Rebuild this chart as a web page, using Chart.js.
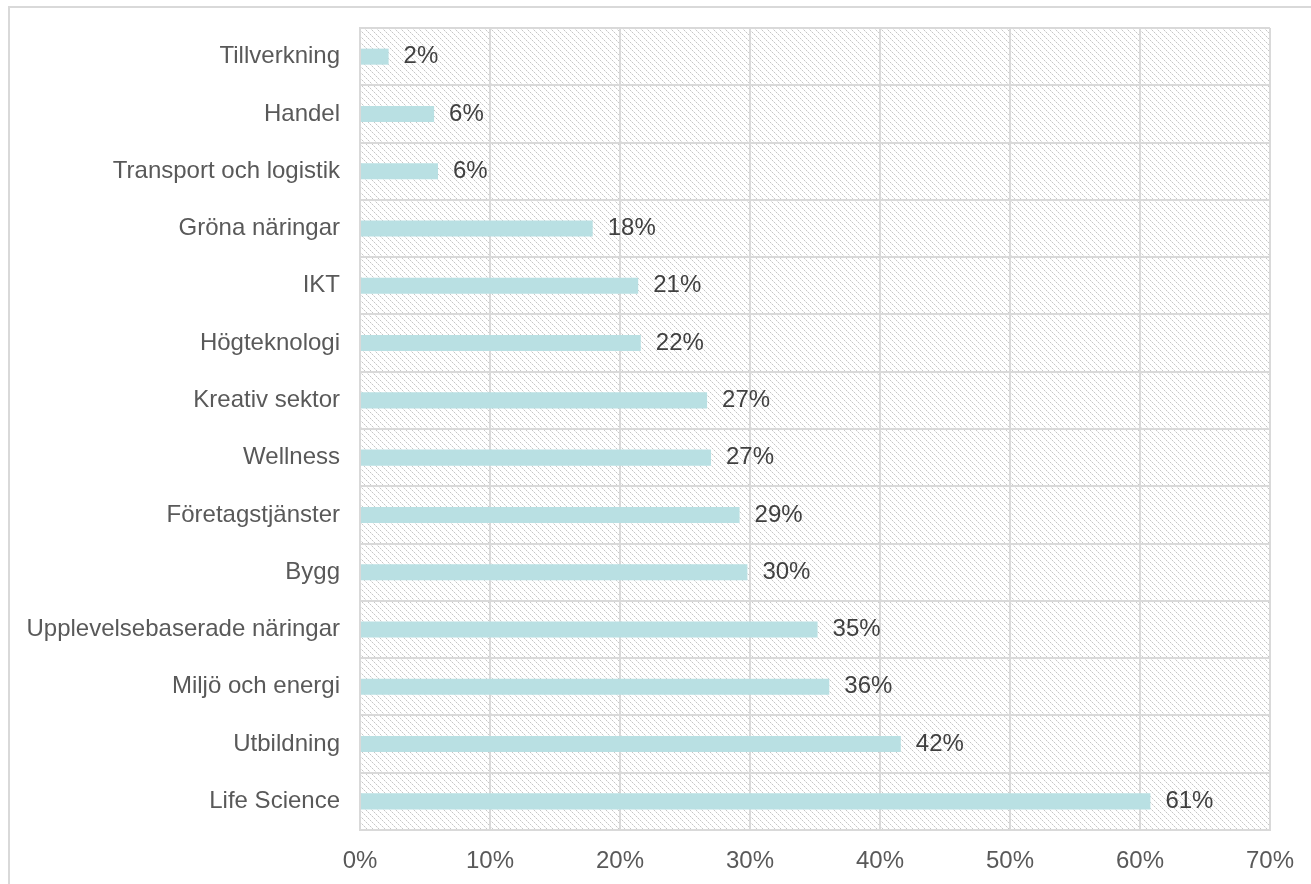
<!DOCTYPE html>
<html>
<head>
<meta charset="utf-8">
<script src="https://cdn.jsdelivr.net/npm/chart.js@4"></script>
<style>
  html, body { margin: 0; padding: 0; overflow: hidden; background: #fff; }
  #frame { position: absolute; left: 8px; top: 6px; width: 1400px; height: 1000px; border: 2px solid #d9d9d9; }
  #graph { position: absolute; left: 0; top: 0; }
</style>
</head>
<body>
<div id="frame"></div>
<canvas id="graph" width="1311" height="884"></canvas>
<script>
// sectors, top to bottom
const sectors = [
  'Tillverkning', 'Handel', 'Transport och logistik', 'Gröna näringar', 'IKT',
  'Högteknologi', 'Kreativ sektor', 'Wellness', 'Företagstjänster', 'Bygg',
  'Upplevelsebaserade näringar', 'Miljö och energi', 'Utbildning', 'Life Science'
];
// share of respondents (fraction)
const shares = [0.022, 0.057, 0.060, 0.179, 0.214, 0.216, 0.267, 0.270, 0.292, 0.298, 0.352, 0.361, 0.416, 0.608];
const axisMax = 0.7;
const axisStep = 0.1;

const font = 'Liberation Sans, Arial, sans-serif';

// dotted diagonal hatch for the plot background
function makeHatch() {
  const c = document.createElement('canvas');
  c.width = 6; c.height = 6;
  const g = c.getContext('2d');
  g.fillStyle = '#ffffff';
  g.fillRect(0, 0, 6, 6);
  for (let i = 0; i < 6; i++) {
    g.fillStyle = i % 2 ? '#e6e6e6' : '#c6c6c6';
    g.fillRect(i, i, 1, 1);
  }
  return c;
}

const hatchPlugin = {
  id: 'hatch',
  beforeDraw(chart) {
    const { ctx, chartArea: a } = chart;
    ctx.save();
    ctx.fillStyle = ctx.createPattern(makeHatch(), 'repeat');
    ctx.fillRect(a.left, a.top, a.right - a.left, a.bottom - a.top);
    ctx.restore();
  }
};

// percentage labels to the right of each bar
const valueLabels = {
  id: 'valueLabels',
  afterDatasetsDraw(chart) {
    const { ctx } = chart;
    const meta = chart.getDatasetMeta(0);
    ctx.save();
    ctx.font = '24px ' + font;
    ctx.fillStyle = '#404040';
    ctx.textAlign = 'left';
    ctx.textBaseline = 'middle';
    meta.data.forEach((bar, i) => {
      ctx.fillText(Math.round(shares[i] * 100) + '%', bar.x + 15, bar.y);
    });
    ctx.restore();
  }
};

const ctx = document.getElementById('graph').getContext('2d');
new Chart(ctx, {
  type: 'bar',
  data: {
    labels: sectors,
    datasets: [{
      data: shares,
      backgroundColor: '#b9e0e3',
      borderWidth: 0,
      categoryPercentage: 1,
      barPercentage: 0.28
    }]
  },
  options: {
    indexAxis: 'y',
    responsive: false,
    animation: false,
    layout: { padding: { top: 28, right: 41, left: 0, bottom: 0 } },
    plugins: { legend: { display: false }, tooltip: { enabled: false } },
    scales: {
      x: {
        min: 0,
        max: axisMax,
        afterFit(scale) { scale.height = 54; },
        grid: { color: '#d9d9d9', lineWidth: 2, drawTicks: false },
        border: { color: '#d9d9d9', width: 2 },
        ticks: {
          stepSize: axisStep,
          padding: 17,
          color: '#595959',
          font: { family: font, size: 24 },
          callback: v => Math.round(v * 100) + '%'
        }
      },
      y: {
        afterFit(scale) {
          scale.width = 360;
          scale.paddingTop = 0;
          scale.paddingBottom = 0;
        },
        grid: { color: '#d9d9d9', lineWidth: 2, drawTicks: false },
        border: { color: '#d9d9d9', width: 2 },
        ticks: {
          padding: 20,
          color: '#595959',
          font: { family: font, size: 24 }
        }
      }
    }
  },
  plugins: [hatchPlugin, valueLabels]
});
</script>
</body>
</html>
